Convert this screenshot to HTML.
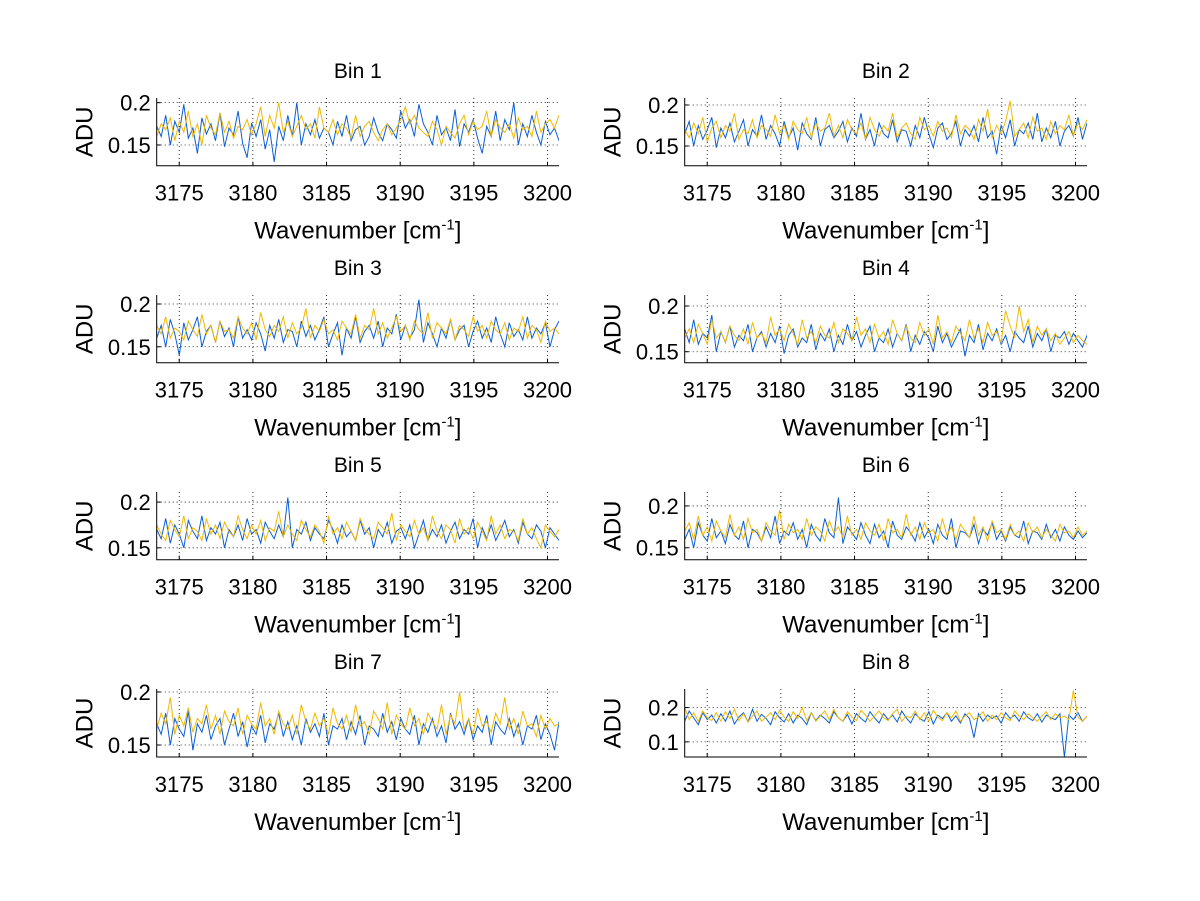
<!DOCTYPE html>
<html><head><meta charset="utf-8"><style>
html,body{margin:0;padding:0;background:#fff;}
svg{display:block;font-family:"Liberation Sans",Arial,sans-serif;}
</style></head><body>
<svg id="fig" width="1200" height="901" viewBox="0 0 1200 901"></svg>
<script>
// ---- data (ADU values in thousandths) ----
const binTitles = ["Bin 1","Bin 2","Bin 3","Bin 4","Bin 5","Bin 6","Bin 7","Bin 8"];
const xTickValues = [3175,3180,3185,3190,3195,3200];
const xTickLabels = ["3175","3180","3185","3190","3195","3200"];
const yTickValues = [[0.15,0.2],[0.15,0.2],[0.15,0.2],[0.15,0.2],[0.15,0.2],[0.15,0.2],[0.15,0.2],[0.1,0.2]];
const yTickLabels = [["0.15","0.2"],["0.15","0.2"],["0.15","0.2"],["0.15","0.2"],["0.15","0.2"],["0.15","0.2"],["0.15","0.2"],["0.1","0.2"]];
const yLimits = [[0.1255,0.2055],[0.126,0.2085],[0.1314,0.2105],[0.138,0.212],[0.137,0.211],[0.1357,0.2167],[0.1387,0.2028],[0.0559,0.254]];
const xLimits = [3173.47,3200.78];
const wavenumberRange = [3173.47,3200.78];

const blue1=[172,160,185,150,178,165,198,158,170,140,182,163,175,155,188,148,170,162,190,152,135,176,160,180,145,168,130,172,155,185,160,200,150,175,162,180,158,170,165,150,178,160,185,155,168,172,150,160,182,165,155,175,168,158,190,170,180,160,198,175,165,150,185,162,170,155,192,148,175,165,180,158,140,172,160,190,155,180,168,200,150,175,160,185,165,150,178,162,170,155];
const yellow1=[160,175,168,182,155,178,165,190,160,175,150,185,170,162,188,165,178,158,172,168,180,162,175,195,160,185,170,200,165,178,160,172,185,168,175,158,195,170,165,180,162,175,170,158,185,160,172,178,165,155,168,175,162,170,180,195,175,185,170,165,160,178,168,150,172,165,158,175,185,162,178,168,172,190,160,180,170,165,175,158,182,168,172,160,190,165,175,180,170,185];
const blue2=[165,180,150,175,158,170,185,148,172,160,178,155,168,182,150,170,162,188,158,175,165,150,180,160,172,145,178,165,158,185,150,170,175,160,168,180,155,172,162,190,158,170,150,178,165,160,182,155,170,168,150,175,160,185,165,148,172,178,158,165,180,150,170,162,175,155,185,160,168,140,175,160,182,150,170,165,178,158,190,155,172,160,180,150,168,175,162,185,158,178];
const yellow2=[170,160,178,165,185,155,172,180,160,175,168,190,158,170,165,182,160,175,170,162,188,165,175,158,180,170,165,185,160,178,168,172,190,162,175,160,182,170,165,178,158,185,170,162,175,168,190,160,172,178,165,158,185,170,175,162,180,168,172,160,188,165,175,170,158,182,168,195,160,175,165,180,205,162,170,178,160,185,168,172,158,180,165,175,170,188,162,178,170,182];
const blue3=[160,175,150,182,165,140,178,158,170,185,150,168,175,155,180,162,172,150,185,160,170,158,178,165,145,175,160,182,155,170,168,150,180,162,175,158,170,185,150,165,178,140,172,160,185,155,168,175,160,180,150,172,165,188,158,175,160,170,205,155,178,165,150,172,160,182,158,170,175,150,168,180,160,172,155,185,165,150,178,162,170,158,185,160,172,165,178,150,170,180];
const yellow3=[175,165,185,160,172,168,158,180,170,162,188,165,175,155,180,168,170,160,185,172,165,178,158,190,170,162,175,168,185,160,178,165,172,195,160,175,168,182,165,170,158,180,172,165,188,160,175,170,195,165,178,160,172,185,168,175,158,180,170,165,190,160,178,172,165,182,158,175,170,162,185,168,175,160,180,170,165,178,158,172,168,185,160,175,170,155,180,168,172,165];
const blue4=[175,160,185,158,170,165,190,150,172,160,178,155,168,162,180,150,165,172,155,170,160,178,148,168,175,155,165,160,180,152,170,162,175,150,168,158,180,162,172,155,168,178,150,165,160,175,155,170,162,180,150,168,158,172,165,150,178,160,170,155,165,175,145,168,160,180,152,170,162,175,158,168,150,172,165,160,178,155,170,162,175,150,168,165,172,158,170,162,155,168];
const yellow4=[165,175,160,180,170,158,185,165,172,160,178,168,162,175,158,182,165,170,160,188,168,175,162,180,170,158,185,165,172,160,178,168,165,182,160,175,170,162,188,168,175,160,180,165,172,158,185,170,162,178,165,160,182,168,175,158,190,165,172,160,178,170,162,185,165,175,160,182,168,172,160,195,178,165,200,172,185,160,178,168,175,162,170,158,165,172,160,168,162,158];
const blue5=[170,160,182,155,175,165,150,180,168,160,185,158,172,165,178,150,170,162,175,158,182,165,170,155,178,168,160,175,162,205,150,170,165,178,158,172,165,160,180,170,155,175,162,168,158,180,165,172,150,170,162,178,155,168,172,160,175,150,165,180,158,170,162,175,155,168,178,160,170,165,182,150,172,160,175,158,168,180,162,170,155,178,165,160,175,168,150,172,165,158];
const yellow5=[175,165,158,180,170,162,185,160,172,168,158,182,165,175,160,178,168,162,185,170,160,175,165,180,158,172,168,190,162,175,165,158,180,170,162,175,168,155,185,165,172,160,178,168,158,182,170,165,160,178,172,165,188,158,175,168,162,180,165,172,158,185,168,160,175,170,155,182,165,172,160,178,168,158,185,165,175,160,170,168,158,182,165,172,160,150,175,168,162,170];
const blue6=[160,172,150,180,165,158,185,162,170,155,178,165,160,182,150,172,168,158,175,162,188,155,170,165,180,160,172,150,178,165,158,185,168,162,210,155,175,168,160,180,165,155,178,162,170,150,182,165,160,175,168,158,180,162,172,155,178,165,160,185,150,170,168,162,178,155,172,165,180,160,170,158,175,165,162,182,155,170,168,160,178,162,172,158,175,165,160,170,162,168];
const yellow6=[170,180,160,188,165,175,158,182,170,162,190,165,175,160,185,168,172,158,180,170,165,195,160,178,168,172,160,185,165,175,170,158,182,168,175,162,188,165,172,160,180,170,165,178,158,185,168,172,162,190,165,175,160,180,168,172,158,185,165,175,160,178,170,162,188,165,175,158,182,168,172,160,178,165,170,158,180,168,175,162,172,165,158,178,168,170,162,175,165,170];
const blue7=[170,160,180,150,175,165,158,182,145,170,162,178,155,168,175,150,165,180,158,172,148,168,160,178,152,170,165,180,158,172,155,168,150,175,162,170,158,180,150,168,165,175,155,172,160,178,150,168,165,158,180,162,172,155,175,165,160,178,150,170,162,175,158,168,152,180,165,172,160,175,155,168,162,178,150,172,165,160,175,158,170,150,168,165,178,155,170,160,145,172];
const yellow7=[165,180,170,195,160,178,168,185,162,175,170,188,165,178,160,182,172,168,185,160,178,170,165,190,168,175,160,182,170,165,178,160,188,172,165,180,168,175,160,185,170,165,178,162,188,168,172,160,182,175,165,190,160,178,170,165,185,168,175,160,180,172,165,188,160,178,170,200,165,175,160,185,168,172,162,180,170,195,165,175,160,182,168,170,158,178,165,175,168,170];
const blue8=[160,190,170,150,185,165,178,155,182,160,190,152,172,185,158,195,160,180,168,150,188,170,158,182,155,178,168,150,185,162,178,168,155,188,170,160,180,152,182,168,158,188,170,155,182,165,178,158,190,170,155,182,168,160,188,152,178,168,185,160,176,155,182,168,112,182,160,178,168,176,155,185,168,178,160,188,170,162,182,158,178,170,165,182,56,178,165,185,160,175];
const yellow8=[200,165,185,160,190,170,162,185,160,188,168,195,162,182,158,175,190,160,172,185,165,192,172,160,188,168,200,162,185,160,175,190,165,195,170,160,188,172,162,192,178,160,175,190,170,162,182,195,160,175,170,190,165,185,160,192,172,162,185,170,190,160,175,185,165,172,188,160,178,165,185,170,162,190,175,165,182,170,160,175,188,165,182,170,175,165,250,172,160,175];
const blueSeries=[blue1,blue2,blue3,blue4,blue5,blue6,blue7,blue8];
const yellowSeries=[yellow1,yellow2,yellow3,yellow4,yellow5,yellow6,yellow7,yellow8];

// ---- layout ----
const NS="http://www.w3.org/2000/svg";
const svg=document.getElementById('fig');
const colLeft=[156.7,684.7], colRight=[559,1087];
const rowTop=[98,295,492,689], rowBottom=[165.7,362.7,559.7,757];
function mk(tag,attrs,parent){const e=document.createElementNS(NS,tag);for(const k in attrs)e.setAttribute(k,attrs[k]);(parent||svg).appendChild(e);return e;}

for(let p=0;p<8;p++){
  const col=p%2,row=Math.floor(p/2);
  const L=colLeft[col],R=colRight[col],T=rowTop[row],B=rowBottom[row];
  const [y0,y1]=yLimits[p];
  const sx=v=>L+(v-xLimits[0])/(xLimits[1]-xLimits[0])*(R-L);
  const sy=v=>B-(v-y0)/(y1-y0)*(B-T);
  const g=mk('g',{});
  
  
  const cp=mk('clipPath',{id:'cp'+p},g);
  mk('rect',{x:L,y:T,width:R-L,height:B-T},cp);
  xTickValues.forEach(v=>{
    const l=mk('line',{x1:sx(v),x2:sx(v),y1:T,y2:B,stroke:'#000','stroke-width':0.8,'stroke-dasharray':'1,3'},g);
    
    
  });
  yTickValues[p].forEach(v=>{
    const l=mk('line',{x1:L,x2:R,y1:sy(v),y2:sy(v),stroke:'#000','stroke-width':0.8,'stroke-dasharray':'1,3'},g);
    
    
  });
  [[blueSeries[p],'#0a5ed8','blue-series'],[yellowSeries[p],'#f0b800','yellow-series']].forEach(([arr,c,nm])=>{
    const n=arr.length;
    const pts=arr.map((v,i)=>{
      const w=wavenumberRange[0]+i*(wavenumberRange[1]-wavenumberRange[0])/(n-1);
      return sx(w).toFixed(1)+','+sy(v/1000).toFixed(1);
    }).join(' ');
    const pl=mk('polyline',{points:pts,fill:'none',stroke:c,'stroke-width':1,'clip-path':'url(#cp'+p+')'},g);
    
    
  });
  const ax=mk('path',{d:`M${L},${T}V${B}H${R}`,fill:'none',stroke:'#000','stroke-width':1},g);
  
  
  xTickValues.forEach((v,i)=>{
    mk('line',{x1:sx(v),x2:sx(v),y1:B,y2:B-4,stroke:'#000'},g);
    const t=mk('text',{x:sx(v),y:B+35,'text-anchor':'middle','font-size':22,fill:'#000'},g);
    t.textContent=xTickLabels[i];
    
    
  });
  yTickValues[p].forEach((v,i)=>{
    mk('line',{x1:L,x2:L+4,y1:sy(v),y2:sy(v),stroke:'#000'},g);
    const t=mk('text',{x:L-6,y:sy(v)+8,'text-anchor':'end','font-size':22,fill:'#000'},g);
    t.textContent=yTickLabels[p][i];
    
    
  });
  const cx=(L+R)/2;
  const title=mk('text',{x:cx,y:T-20,'text-anchor':'middle','font-size':21,fill:'#000'},g);
  title.textContent=binTitles[p];
  
  
  const xl=mk('text',{x:cx,y:B+73,'text-anchor':'middle','font-size':24,fill:'#000'},g);
  xl.innerHTML='Wavenumber [cm<tspan dy="-9" font-size="15">-1</tspan><tspan dy="9">]</tspan>';
  
  
  const yl=mk('text',{x:0,y:0,'text-anchor':'middle','font-size':24,fill:'#000',transform:`translate(${L-64},${(T+B)/2}) rotate(-90)`},g);
  yl.textContent='ADU';
  
  
}
</script>
</body></html>
